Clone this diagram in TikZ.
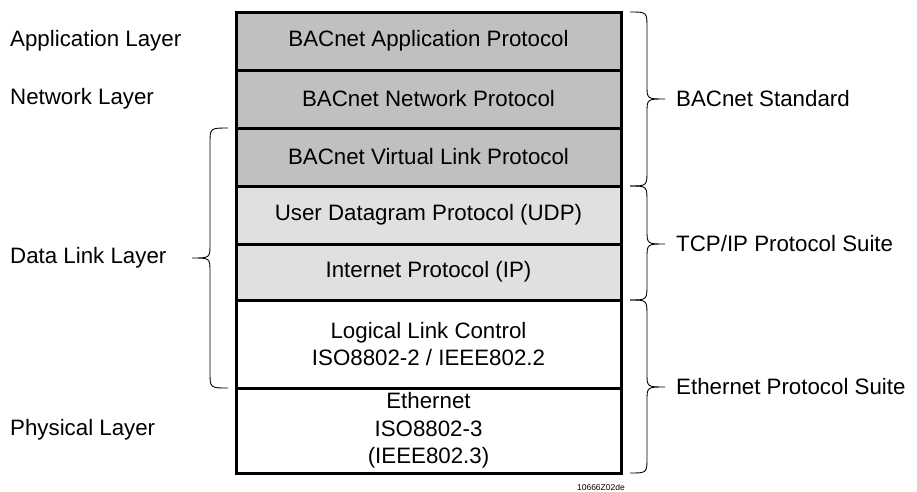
\documentclass[tikz,border=0pt]{standalone}
\usepackage{fontspec}
\setmainfont{Liberation Sans}
\definecolor{darkrow}{RGB}{192,192,192}
\definecolor{lightrow}{RGB}{224,224,224}
\tikzset{
  row/.style={draw=black, line width=3pt, minimum width=385pt, inner sep=0pt, align=center,
    font=\fontsize{22.3}{27.5}\selectfont},
  lbl/.style={anchor=west, inner sep=0pt, font=\fontsize{22.3}{26}\selectfont},
  brc/.style={line width=0.9pt, draw=black},
}
\newcommand{\rbrc}[4]{% xbase, ytop, ybot, ymid
  \draw[brc] (#1,#2) .. controls (#1+17,#2) .. (#1+17,#2+16) -- (#1+17,#4-14)
    .. controls (#1+17,#4) .. (#1+35,#4) .. controls (#1+17,#4) .. (#1+17,#4+14)
    -- (#1+17,#3-16) .. controls (#1+17,#3) .. (#1,#3);}
\newcommand{\lbrc}[4]{% xbase, ytop, ybot, ymid
  \draw[brc] (#1,#2) .. controls (#1-18,#2) .. (#1-18,#2+16) -- (#1-18,#4-14)
    .. controls (#1-18,#4) .. (#1-36,#4) .. controls (#1-18,#4) .. (#1-18,#4+14)
    -- (#1-18,#3-16) .. controls (#1-18,#3) .. (#1,#3);}
\begin{document}
\begin{tikzpicture}[x=1pt,y=-1pt]
\useasboundingbox (0,0) rectangle (917,491);
% rows
\node[row, fill=darkrow, minimum height=58pt] (app) at (428.5,41) {BACnet Application Protocol};
\node[row, fill=darkrow, minimum height=58pt] (net) at (428.5,99) {BACnet Network Protocol};
\node[row, fill=darkrow, minimum height=58pt] (vlp) at (428.5,157) {BACnet Virtual Link Protocol};
\node[row, fill=lightrow, minimum height=58pt] (udp) at (428.5,215) {User Datagram Protocol (UDP)};
\node[row, fill=lightrow, minimum height=56pt] (ip) at (428.5,272) {Internet Protocol (IP)};
\node[row, fill=white, minimum height=88pt] (llc) at (428.5,344) {Logical Link Control\\ISO8802-2 / IEEE802.2};
\node[row, fill=white, minimum height=85pt] (eth) at (428.5,430.5) {Ethernet\\ISO8802-3\\(IEEE802.3)};
% left labels
\node[lbl] (lapp) at (10,41) {Application Layer};
\node[lbl] (lnet) at (10,99) {Network Layer};
\node[lbl] (ldl) at (10,258) {Data Link Layer};
\node[lbl] (lphy) at (10,430) {Physical Layer};
% right labels
\node[lbl] (rbac) at (676,99) {BACnet Standard};
\node[lbl] (rtcp) at (676,244) {TCP/IP Protocol Suite};
\node[lbl] (reth) at (676,387) {Ethernet Protocol Suite};
% braces
\rbrc{630}{12}{186}{99}
\rbrc{630}{186}{300}{244}
\rbrc{630}{300}{473}{387}
\lbrc{228}{128}{388}{258}
% figure id
\node[anchor=east, inner sep=0pt, font=\fontsize{8.5}{9}\selectfont] (fid) at (625,487) {10666Z02de};
\end{tikzpicture}
\end{document}
